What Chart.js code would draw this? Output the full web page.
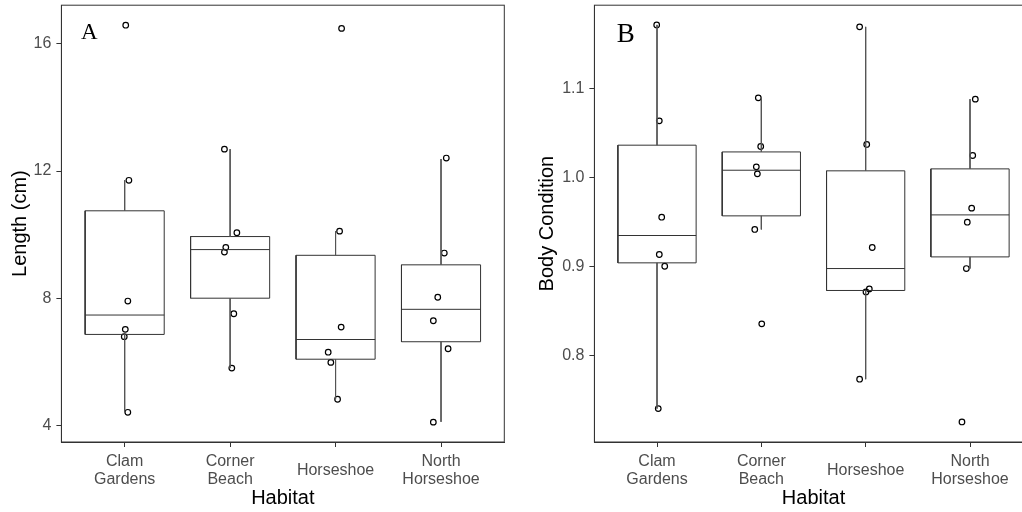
<!DOCTYPE html>
<html>
<head>
<meta charset="utf-8">
<script src="https://cdn.jsdelivr.net/npm/chart.js@4"></script>
<style>
  html, body { margin: 0; padding: 0; background: #fff; overflow: hidden; }
  #wrap { position: relative; width: 1022px; height: 512px; overflow: hidden; }
  canvas { position: absolute; top: 0; }
  #chartA { left: 0; }
  #chartB { left: 511px; }
</style>
</head>
<body>
<div id="wrap">
  <canvas id="chartA" width="512" height="512"></canvas>
  <canvas id="chartB" width="530" height="512"></canvas>
</div>
<script>
// ========================================
// DATA
// ========================================
const habitats = [['Clam', 'Gardens'], ['Corner', 'Beach'], 'Horseshoe', ['North', 'Horseshoe']];

// Panel A - length (cm), one list per habitat
const lengthPoints = [
    [16.59, 11.71, 7.91, 7.02, 6.79, 4.41],
    [12.69, 10.06, 9.60, 9.45, 7.51, 5.80],
    [16.49, 10.11, 7.09, 6.30, 5.98, 4.82],
    [12.41, 9.42, 8.03, 7.29, 6.41, 4.10]
];
// horizontal jitter of each point, in category units
const lengthJitter = [
    [0.01, 0.04, 0.03, 0.006, -0.004, 0.03],
    [-0.054, 0.064, -0.041, -0.054, 0.035, 0.016],
    [0.057, 0.038, 0.053, -0.07, -0.045, 0.019],
    [0.05, 0.031, -0.031, -0.073, 0.067, -0.073]
];
const lengthLow    = [4.41, 5.80, 4.82, 4.11];
const lengthQ1     = [6.86, 8.00, 6.08, 6.63];
const lengthMedian = [7.47, 9.53, 6.70, 7.65];
const lengthQ3     = [10.75, 9.94, 9.35, 9.05];
const lengthHigh   = [11.71, 12.69, 10.11, 12.38];
const lengthTicks  = [4, 8, 12, 16];
const lengthTickLabels = ['4', '8', '12', '16'];

// Panel B - body condition
const conditionPoints = [
    [1.172, 1.064, 0.9555, 0.9135, 0.9003, 0.740],
    [1.0899, 1.0351, 1.0122, 1.0043, 0.9417, 0.8354],
    [1.1698, 1.0374, 0.9214, 0.8748, 0.8714, 0.7731],
    [1.0884, 1.025, 0.9657, 0.9499, 0.8977, 0.725]
];
const conditionJitter = [
    [-0.003, 0.022, 0.045, 0.022, 0.074, 0.012],
    [-0.029, -0.006, -0.048, -0.038, -0.063, 0.004],
    [-0.058, 0.01, 0.063, 0.035, 0.003, -0.058],
    [0.051, 0.026, 0.016, -0.026, -0.035, -0.077]
];
const conditionLow    = [0.740, 0.9417, 0.7731, 0.8977];
const conditionQ1     = [0.9041, 0.957, 0.873, 0.9108];
const conditionMedian = [0.9349, 1.0084, 0.8977, 0.9581];
const conditionQ3     = [1.0366, 1.029, 1.0077, 1.0099];
const conditionHigh   = [1.172, 1.0899, 1.1698, 1.0884];
const conditionTicks  = [0.8, 0.9, 1.0, 1.1];
const conditionTickLabels = ['0.8', '0.9', '1.0', '1.1'];

// ========================================
// STYLE
// ========================================
const BOX_WIDTH = 0.75;
const LINE_COLOR = '#333333';
const WHISKER_COLOR = '#555555';
const TICK_TEXT = '#4d4d4d';
const SANS = '"Liberation Sans", Arial, sans-serif';

// ========================================
// PLUGINS
// ========================================
const panelBorder = {
    id: 'panelBorder',
    afterDatasetsDraw(chart) {
        const { ctx, chartArea: a } = chart;
        ctx.save();
        ctx.strokeStyle = LINE_COLOR;
        ctx.lineWidth = 1;
        ctx.strokeRect(a.left, a.top, a.right - a.left, a.bottom - a.top);
        ctx.restore();
    }
};

const panelTag = {
    id: 'panelTag',
    afterDraw(chart, args, opts) {
        const { ctx, chartArea: a } = chart;
        ctx.save();
        ctx.font = opts.size + 'px "Liberation Serif", serif';
        ctx.fillStyle = '#000';
        ctx.textBaseline = 'alphabetic';
        ctx.fillText(opts.text, a.left + opts.dx, a.top + opts.dy);
        ctx.restore();
    }
};

// ========================================
// BUILD DATASETS
// ========================================
function buildDatasets(points, jitter, low, q1, med, q3, high) {
    const half = BOX_WIDTH / 2;
    const boxes = [], whiskers = [], medians = [], dots = [];

    habitats.forEach((_, i) => {
        const x = i + 1;
        boxes.push(
            { x: x - half, y: q1[i] }, { x: x + half, y: q1[i] },
            { x: x + half, y: q3[i] }, { x: x - half, y: q3[i] },
            { x: x - half, y: q1[i] }, { x: x, y: null }
        );
        whiskers.push(
            { x: x, y: high[i] }, { x: x, y: q3[i] }, { x: x, y: null },
            { x: x, y: q1[i] }, { x: x, y: low[i] }, { x: x, y: null }
        );
        medians.push({ x: x - half, y: med[i] }, { x: x + half, y: med[i] }, { x: x, y: null });
        points[i].forEach((v, j) => dots.push({ x: x + jitter[i][j], y: v }));
    });

    const lineSet = (data, color) => ({
        data: data,
        showLine: true,
        spanGaps: false,
        borderColor: color,
        borderWidth: 1,
        borderJoinStyle: 'miter',
        pointRadius: 0,
        fill: false
    });

    return [
        lineSet(whiskers, WHISKER_COLOR),
        lineSet(boxes, LINE_COLOR),
        lineSet(medians, LINE_COLOR),
        {
            data: dots,
            pointRadius: 2.8,
            pointBorderWidth: 1.2,
            pointBorderColor: '#000',
            pointBackgroundColor: 'rgba(0,0,0,0)'
        }
    ];
}

// ========================================
// OPTIONS
// ========================================
function buildOptions(cfg) {
    const grid = { drawOnChartArea: false, drawTicks: true, tickLength: 5, tickColor: LINE_COLOR, tickWidth: 1 };
    const border = { display: true, color: LINE_COLOR, width: 1 };
    return {
        responsive: false,
        animation: false,
        events: [],
        layout: { padding: { top: 5, right: cfg.padRight, bottom: 0, left: 0 } },
        plugins: {
            legend: { display: false },
            tooltip: { enabled: false },
            panelTag: cfg.tag
        },
        scales: {
            x: {
                type: 'linear',
                min: 0.4,
                max: 4.6,
                afterBuildTicks: s => { s.ticks = habitats.map((_, i) => ({ value: i + 1 })); },
                afterFit: s => { s.height = 70; s.paddingLeft = 0; s.paddingRight = 0; },
                grid: grid,
                border: border,
                ticks: {
                    color: TICK_TEXT,
                    font: { family: SANS, size: 16, lineHeight: 1.1 },
                    padding: 15,
                    crossAlign: 'center',
                    maxRotation: 0,
                    autoSkip: false,
                    callback: v => habitats[Math.round(v) - 1]
                },
                title: {
                    display: true,
                    text: 'Habitat',
                    color: '#000',
                    font: { family: SANS, size: 20 },
                    padding: { top: 0, bottom: 2 }
                }
            },
            y: {
                type: 'linear',
                min: cfg.yMin,
                max: cfg.yMax,
                afterBuildTicks: s => { s.ticks = cfg.yTicks.map(v => ({ value: v })); },
                afterFit: s => { s.width = cfg.yWidth; s.paddingTop = 0; s.paddingBottom = 0; },
                grid: grid,
                border: border,
                ticks: {
                    color: TICK_TEXT,
                    font: { family: SANS, size: 16 },
                    padding: 5,
                    callback: (v, i) => cfg.yLabels[i]
                },
                title: {
                    display: true,
                    text: cfg.yTitle,
                    color: '#000',
                    font: { family: SANS, size: 20 },
                    padding: { top: cfg.titlePad, bottom: 0 }
                }
            }
        }
    };
}

// ========================================
// CHARTS
// ========================================
new Chart(document.getElementById('chartA'), {
    type: 'scatter',
    data: { datasets: buildDatasets(lengthPoints, lengthJitter, lengthLow, lengthQ1, lengthMedian, lengthQ3, lengthHigh) },
    options: buildOptions({
        yMin: 3.475, yMax: 17.22,
        yTicks: lengthTicks, yLabels: lengthTickLabels,
        yTitle: 'Length (cm)', yWidth: 61.4, titlePad: 8, padRight: 7.7,
        tag: { text: 'A', size: 23, dx: 19.5, dy: 34 }
    }),
    plugins: [panelBorder, panelTag]
});

new Chart(document.getElementById('chartB'), {
    type: 'scatter',
    data: { datasets: buildDatasets(conditionPoints, conditionJitter, conditionLow, conditionQ1, conditionMedian, conditionQ3, conditionHigh) },
    options: buildOptions({
        yMin: 0.7024, yMax: 1.1942,
        yTicks: conditionTicks, yLabels: conditionTickLabels,
        yTitle: 'Body Condition', yWidth: 83.4, titlePad: 24, padRight: 8.4,
        tag: { text: 'B', size: 27, dx: 22.3, dy: 37 }
    }),
    plugins: [panelBorder, panelTag]
});
</script>
</body>
</html>
